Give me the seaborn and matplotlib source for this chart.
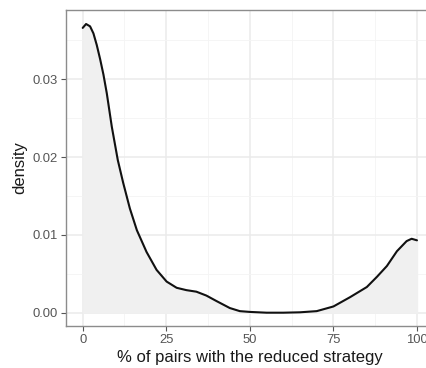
import seaborn as sns
import matplotlib.pyplot as plt
import pandas as pd
from matplotlib.ticker import MultipleLocator

# density curve
pct = [0, 1, 2.2, 3.2, 4.2, 5.2, 6.2, 7.2, 8.7, 10.5, 12.1, 14.1, 16.2, 19.1,
       22.1, 25.1, 28.1, 31, 34, 37, 40, 44, 47, 50, 55, 60, 65, 70, 75, 80,
       85, 88, 91, 94, 96.9, 98.4, 100]
dens = [0.0366, 0.0371, 0.0368, 0.0359, 0.0344, 0.0326, 0.0306, 0.0282, 0.0239,
        0.0196, 0.0167, 0.0134, 0.0106, 0.0078, 0.0055, 0.0040, 0.0032, 0.0029,
        0.0027, 0.0022, 0.0015, 0.0006, 0.0002, 0.0001, 0.0, 0.0, 0.00005,
        0.0002, 0.0008, 0.0020, 0.0033, 0.0046, 0.0060, 0.0079, 0.0092, 0.0095,
        0.0093]
x_ticks = [0, 25, 50, 75, 100]
y_ticks = [0.00, 0.01, 0.02, 0.03]

df = pd.DataFrame({"pct": pct, "density": dens})

sns.set_theme(style="white")
plt.rcParams['font.family'] = ['Liberation Sans', 'DejaVu Sans']

fig = plt.figure(figsize=(4.27, 3.68), dpi=100)
ax = fig.add_axes([66 / 427, 42 / 368, (427 - 66) / 427, 316 / 368])

ax.fill_between(df["pct"], df["density"], color="#f0f0f0", zorder=2)
sns.lineplot(data=df, x="pct", y="density", color="#111111", linewidth=1.5,
             ax=ax, zorder=3)

ax.set_xlim(-5, 103)
ax.set_ylim(-0.00171, 0.0389)
ax.set_xticks(x_ticks)
ax.set_xticklabels([str(v) for v in x_ticks])
ax.set_yticks(y_ticks)
ax.set_yticklabels([f"{v:.2f}" for v in y_ticks])
ax.xaxis.set_minor_locator(MultipleLocator(12.5))
ax.yaxis.set_minor_locator(MultipleLocator(0.005))

ax.grid(which="major", color="#ebebeb", linewidth=1.1, zorder=0)
ax.grid(which="minor", color="#f4f4f4", linewidth=0.6, zorder=0)
ax.set_axisbelow(True)

for side in ["left", "bottom", "top"]:
    ax.spines[side].set_color("#8c8c8c")
    ax.spines[side].set_linewidth(1.0)
ax.spines["right"].set_visible(False)

ax.tick_params(which="major", length=3.5, width=0.8, color="#555555",
               labelcolor="#555555", labelsize=9.4, pad=2.5,
               bottom=True, left=True)
ax.tick_params(which="minor", length=0)

ax.set_xlabel("% of pairs with the reduced strategy", fontsize=12,
              color="#1a1a1a", labelpad=1.5)
ax.set_ylabel("density", fontsize=12, color="#1a1a1a", labelpad=4)
# panel runs past the right image edge in the original, so centre the label a bit right
ax.xaxis.set_label_coords(0.51, -0.075)

fig.savefig("out.png", dpi=100)
